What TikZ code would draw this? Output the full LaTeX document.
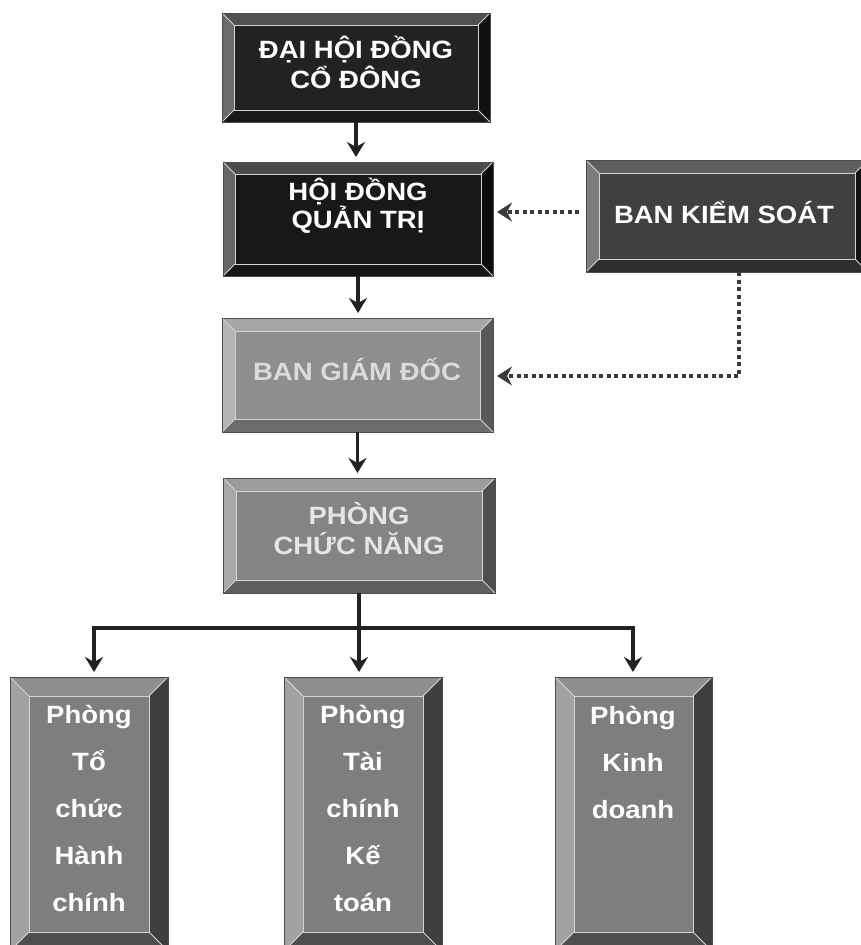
\documentclass[tikz,border=0pt]{standalone}
\usepackage{fontspec}
\newfontfamily\boxfont[FakeStretch=1.1]{Liberation Sans}
\usetikzlibrary{arrows.meta,fit}

% colour sets: face, top, bottom, left, right bevels
\definecolor{dkface}{HTML}{222222}\definecolor{dktop}{HTML}{505050}\definecolor{dkbot}{HTML}{1A1A1A}\definecolor{dkleft}{HTML}{6C6C6C}\definecolor{dkright}{HTML}{101010}
\definecolor{dktface}{HTML}{181818}\definecolor{dkttop}{HTML}{4C4C4C}\definecolor{dktbot}{HTML}{161616}\definecolor{dktleft}{HTML}{666666}\definecolor{dktright}{HTML}{0C0C0C}
\definecolor{ksface}{HTML}{404040}\definecolor{kstop}{HTML}{5E5E5E}\definecolor{ksbot}{HTML}{2E2E2E}\definecolor{ksleft}{HTML}{7C7C7C}\definecolor{ksright}{HTML}{121212}
\definecolor{gdface}{HTML}{8E8E8E}\definecolor{gdtop}{HTML}{A6A6A6}\definecolor{gdbot}{HTML}{6C6C6C}\definecolor{gdleft}{HTML}{B4B4B4}\definecolor{gdright}{HTML}{585858}
\definecolor{cnface}{HTML}{848484}\definecolor{cntop}{HTML}{9C9C9C}\definecolor{cnbot}{HTML}{5E5E5E}\definecolor{cnleft}{HTML}{A8A8A8}\definecolor{cnright}{HTML}{4E4E4E}
\definecolor{btface}{HTML}{7E7E7E}\definecolor{bttop}{HTML}{8E8E8E}\definecolor{btbot}{HTML}{4E4E4E}\definecolor{btleft}{HTML}{A2A2A2}\definecolor{btright}{HTML}{3E3E3E}
\definecolor{connc}{HTML}{222222}
\definecolor{dotc}{HTML}{3A3A3A}
\definecolor{seamc}{HTML}{D4D4D4}

\newcommand{\bevelbox}[7]{%
  \fill[#7top] (#2,#3) -- (#4,#3) -- ({#4-#6},{#3+#6}) -- ({#2+#6},{#3+#6}) -- cycle;
  \fill[#7bot] (#2,#5) -- (#4,#5) -- ({#4-#6},{#5-#6}) -- ({#2+#6},{#5-#6}) -- cycle;
  \fill[#7left] (#2,#3) -- ({#2+#6},{#3+#6}) -- ({#2+#6},{#5-#6}) -- (#2,#5) -- cycle;
  \fill[#7right] (#4,#3) -- ({#4-#6},{#3+#6}) -- ({#4-#6},{#5-#6}) -- (#4,#5) -- cycle;
  \fill[#7face] ({#2+#6},{#3+#6}) rectangle ({#4-#6},{#5-#6});
  \draw[seam] ({#2+#6},{#3+#6}) rectangle ({#4-#6},{#5-#6});
  \draw[seam] (#2,#3) -- ({#2+#6},{#3+#6}) (#4,#3) -- ({#4-#6},{#3+#6})
              (#2,#5) -- ({#2+#6},{#5-#6}) (#4,#5) -- ({#4-#6},{#5-#6});
  \draw[outline] (#2,#3) rectangle (#4,#5);
  \path (#2,#3) coordinate (#1-nw) (#4,#5) coordinate (#1-se);
  \node[fit=(#1-nw)(#1-se), inner sep=0pt, outer sep=0pt] (#1) {};
}

\tikzset{
  seam/.style={draw=seamc, line width=0.9pt},
  outline/.style={draw=black!70, line width=0.6pt},
  boxtext/.style={font={\boxfont\bfseries\fontsize{25}{30}\selectfont}, text=white, align=center, inner sep=0pt},
  tighttext/.style={boxtext, font={\boxfont\bfseries\fontsize{25}{25}\selectfont}},
  talltext/.style={boxtext, font={\boxfont\bfseries\fontsize{25}{47}\selectfont}, anchor=north},
  tip/.style={},
  conn/.style={draw=connc, line width=3.5pt, shorten >=5pt, -{Stealth[length=15pt,width=18pt,inset=5pt]}},
  busline/.style={draw=connc, line width=3.5pt},
  dotarrow/.style={draw=dotc, line width=4.5pt, dash pattern=on 4pt off 3.5pt, shorten >=4pt,
     -{Stealth[length=15pt,width=19pt,inset=5pt]}},
}

\begin{document}
\begin{tikzpicture}[x=1pt,y=-1pt]
\useasboundingbox (0,0) rectangle (861,945);
\fill[white] (0,0) rectangle (861,945);
\clip (0,0) rectangle (861,945);

% boxes
\bevelbox{dhcd}{222}{13}{490}{122}{12}{dk}
\bevelbox{hdqt}{223}{162}{493}{276}{12}{dkt}
\bevelbox{bks}{586}{160}{868}{272}{13}{ks}
\bevelbox{bgd}{222}{318}{493}{432}{13}{gd}
\bevelbox{pcn}{223}{478}{495}{593}{13}{cn}
\bevelbox{pA}{10}{677}{168}{951}{19}{bt}
\bevelbox{pB}{284}{677}{442}{951}{19}{bt}
\bevelbox{pC}{555}{677}{712}{951}{19}{bt}

% texts
\node[boxtext] (dhcd-t) at (356,62) {ĐẠI HỘI ĐỒNG\\CỔ ĐÔNG};
\node[tighttext] (hdqt-t) at (358,206) {HỘI ĐỒNG\\QUẢN TRỊ};
\node[boxtext] (bks-t) at (724,212) {BAN KIỂM SOÁT};
\node[boxtext, text=white!86!black] (bgd-t) at (357,369) {BAN GIÁM ĐỐC};
\node[boxtext, text=white!90!black] (pcn-t) at (359,529) {PHÒNG\\CHỨC NĂNG};
\node[talltext] (pA-t) at (89,705) {Phòng\\Tổ\\chức\\Hành\\chính};
\node[talltext] (pB-t) at (363,705) {Phòng\\Tài\\chính\\Kế\\toán};
\node[talltext] (pC-t) at (633,706) {Phòng\\Kinh\\doanh};

% solid connectors
\draw[conn] (dhcd.south) -- (dhcd.south |- hdqt.north);
\draw[conn] (hdqt.south) -- (hdqt.south |- bgd.north);
\draw[conn] (bgd.south) -- (bgd.south |- pcn.north);

\coordinate (busA) at (94,628);
\coordinate (busC) at (633,628);
\draw[busline] (pcn.south) -- (pcn.south |- busA);
\draw[conn, shorten <=5pt, {Stealth[length=15pt,width=18pt,inset=5pt]}-{Stealth[length=15pt,width=18pt,inset=5pt]}]
  (busA |- pA.north) -- (busA) -- (busC) -- (busC |- pC.north);
\draw[conn] (pcn.south |- busA) -- (pcn.south |- pB.north);

% dotted connectors
\coordinate (k1) at (579,212);
\draw[dotarrow] (k1) -- (k1 -| hdqt.east);
\coordinate (k2) at (739,272);
\coordinate (k3) at (739,376);
\draw[dotarrow] (k2) -- (k3) -- (k3 -| bgd.east);
\end{tikzpicture}
\end{document}
